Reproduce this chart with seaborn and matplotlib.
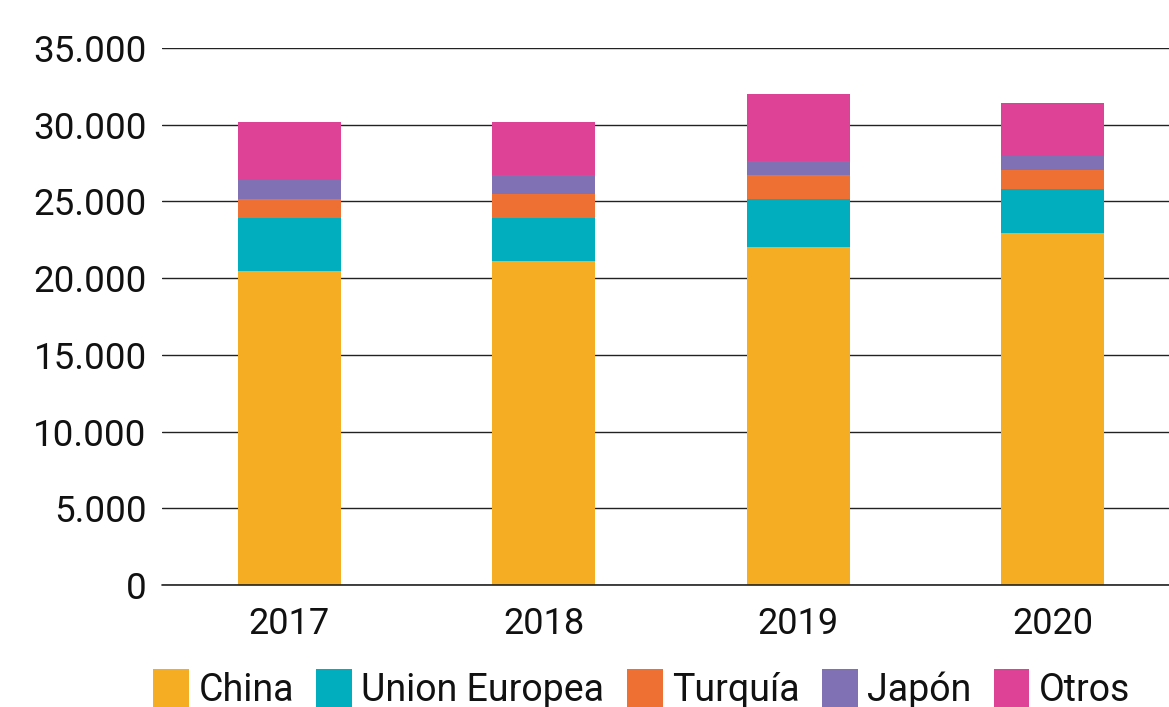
import matplotlib
matplotlib.use("Agg")
import matplotlib.pyplot as plt
import seaborn as sns
import pandas as pd
import numpy as np
from matplotlib.patches import Patch
from matplotlib.ticker import FuncFormatter

years = ["2017", "2018", "2019", "2020"]
series_names = ["China", "Union Europea", "Turquía", "Japón", "Otros"]
china = [20480, 21090, 22050, 22960]
union_europea = [3420, 2810, 3110, 2830]
turquia = [1260, 1560, 1560, 1260]
japon = [1240, 1260, 920, 910]
otros = [3760, 3440, 4390, 3440]
colors = ["#F5AE24", "#00AEBE", "#EE7133", "#8070B4", "#DE4297"]

sns.set_theme(style="white")
plt.rcParams["font.family"] = ["Roboto", "DejaVu Sans"]

df = pd.DataFrame({"year": years, "China": china, "Union Europea": union_europea,
                   "Turquía": turquia, "Japón": japon, "Otros": otros})
cum = df[series_names].cumsum(axis=1)

fig = plt.figure(figsize=(11.69, 7.07), dpi=100)
ax = fig.add_axes([162 / 1169, (707 - 585) / 707, 1 - 162 / 1169, (585 - 48) / 707])

for name, col in reversed(list(zip(series_names, colors))):
    sns.barplot(x=df["year"], y=cum[name], color=col, width=0.405,
                saturation=1, ax=ax, edgecolor="none", zorder=3)

ax.set_ylim(0, 35000)
ax.set_xlim(-0.5, 3.456)
ax.set_yticks(np.arange(0, 35001, 5000))
ax.yaxis.set_major_formatter(FuncFormatter(lambda v, p: f"{int(v):,}".replace(",", ".")))
ax.grid(axis="y", color="#222222", linewidth=1.0, zorder=0)
ax.axhline(0, color="#222222", linewidth=1.2, zorder=4, clip_on=False)
ax.set_axisbelow(True)
for s in ax.spines.values():
    s.set_visible(False)
ax.set_xlabel("")
ax.set_ylabel("")
ax.tick_params(axis="y", length=0, pad=11, labelsize=26.5, labelcolor="#111111")
ax.tick_params(axis="x", length=0, pad=15, labelsize=26, labelcolor="#111111")

handles = [Patch(facecolor=c, edgecolor="none", label=n) for n, c in zip(series_names, colors)]
fig.legend(handles=handles, loc="lower center", bbox_to_anchor=(0.549, -0.051), ncol=5,
           frameon=False, fontsize=27, handlelength=0.95, handleheight=1.2,
           handletextpad=0.25, columnspacing=0.6, labelcolor="#111111")

fig.savefig("out.png", dpi=100)
